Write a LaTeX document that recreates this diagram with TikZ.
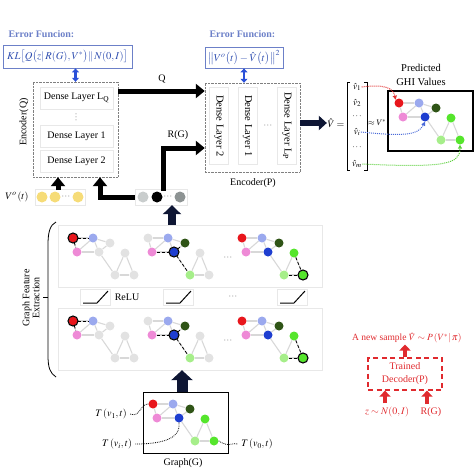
\documentclass[tikz,border=0pt]{standalone}
\usepackage{mathptmx}
\usepackage[no-math]{fontspec}
\setmainfont{Liberation Serif}
\usetikzlibrary{arrows.meta,backgrounds,calc}
\definecolor{nred}{HTML}{E8161C}
\definecolor{nlblue}{HTML}{9BA9EE}
\definecolor{ndgreen}{HTML}{2F5416}
\definecolor{npink}{HTML}{EE8AD6}
\definecolor{nblue}{HTML}{1E3ED0}
\definecolor{ngreen}{HTML}{55E52C}
\definecolor{nlgreen}{HTML}{A6EE8A}
\definecolor{ngray}{HTML}{E2E2E2}
\definecolor{errblue}{HTML}{6C80C8}
\definecolor{mathblue}{HTML}{2E4DB0}
\definecolor{arrblue}{HTML}{2A50D8}
\definecolor{navy}{HTML}{0E1634}
\definecolor{dred}{HTML}{E02A2E}
\definecolor{yel}{HTML}{F6DC78}
\definecolor{edgegray}{HTML}{D8D8D8}
\definecolor{faint}{HTML}{E8E8E8}
\definecolor{lgc}{HTML}{C9CDCD}
\definecolor{mgc}{HTML}{8D9393}
\definecolor{dotred}{HTML}{E03030}
\definecolor{dotblue}{HTML}{4A6AD8}
\definecolor{dotgreen}{HTML}{5CCF3C}
\newcommand{\setcols}[8]{\def\cA{#1}\def\cB{#2}\def\cC{#3}\def\cD{#4}\def\cE{#5}\def\cF{#6}\def\cG{#7}\def\cH{#8}}
\newcommand{\drawgraph}[3]{%
  \foreach \nm/\dx/\dy in {A/0/0,B/20/0,C/37/5,D/4/14,E/26/14,F/52/15,G/42/37,H/61/37}{%
    \edef\tmpcol{\csname c\nm\endcsname}%
    \node[gn, fill=\tmpcol] (#1\nm) at ({#2+\dx},{#3+\dy}) {};
  }%
  \begin{pgfonlayer}{background}
  \foreach \ea/\eb in {A/B,A/D,B/D,B/E,B/C,C/E,D/E,E/G,F/G,F/H,G/H}{\draw[ge] (#1\ea) -- (#1\eb);}
  \end{pgfonlayer}}
\begin{document}
\begin{tikzpicture}[x=1pt,y=-1pt,
  font=\fontsize{10}{12}\selectfont,
  gn/.style={circle, minimum size=9pt, inner sep=0pt},
  ge/.style={draw=edgegray, line width=1.1pt},
  de/.style={black, densely dashed, line width=0.8pt},
  hlc/.style={line width=1.1pt},
  bigarrow/.style={line width=5pt, -{Triangle[length=9pt,width=14pt]}},
  navyup/.style={navy, line width=8pt, -{Triangle[length=9pt,width=18pt]}},
  navybig/.style={navy, line width=11pt, -{Triangle[length=10pt,width=21pt]}},
  navymid/.style={navy, line width=6pt, -{Triangle[length=8pt,width=14pt]}},
  dbl/.style={arrblue, line width=2.2pt, {Triangle[length=4pt,width=7pt]}-{Triangle[length=4pt,width=7pt]}},
  redarrow/.style={dred, line width=4.5pt, -{Triangle[length=6pt,width=11pt]}},
  errtxt/.style={text=errblue, font=\fontsize{10}{12}\selectfont\bfseries},
  dl/.style={draw=faint, minimum width=73pt, minimum height=22pt},
  dlv/.style={draw=faint, minimum width=77pt, minimum height=19pt, rotate=-90, font=\fontsize{10.5}{12}\selectfont},
  faintbox/.style={draw=faint, inner sep=0pt},
  panel/.style={draw=faint, minimum width=264pt, minimum height=62pt},
  relu/.style={black, line width=1pt},
  vent/.style={inner sep=0.5pt, font=\fontsize{9}{10}\selectfont},
  smalldots/.style={inner sep=0pt, font=\fontsize{8}{8}\selectfont},
  dotc/.style={black, densely dotted, line width=0.8pt}]
\useasboundingbox (0,0) rectangle (474,474);

% ---- error functions
\node[errtxt, anchor=west] (ef1) at (5,34) {Error Funcion:};
\node[errtxt, anchor=west] (ef2) at (206,34) {Error Funcion:};
\node[draw=errblue, line width=0.8pt, text=mathblue, minimum width=129pt, minimum height=23pt, inner sep=1pt, font=\fontsize{10.5}{12}\selectfont] (kl) at (67.5,56.5)
  {$KL\big[Q\big(z|\,R(G),V^*\big)\|\,N(0,I)\big]$};
\node[draw=errblue, line width=0.8pt, text=mathblue, minimum width=78pt, minimum height=21pt, inner sep=1pt, font=\fontsize{10.5}{12}\selectfont] (kl2) at (244,57.5)
  {$\big\|V^o\big(t\big)-\hat V\big(t\big)\big\|^2$};

% ---- Encoder(Q)
\node[draw=gray, densely dotted, minimum width=85pt, minimum height=95pt] (encQ) at (75.5,129.5) {};
\node[dl] (lq) at (76.5,98) {Dense Layer L$_{\mathrm{Q}}$};
\node[smalldots, rotate=90] (qdots) at (76.5,117) {$\cdots$};
\node[dl] (l1q) at (76.5,136) {Dense Layer 1};
\node[dl] (l2q) at (76.5,161) {Dense Layer 2};
\node[rotate=90] (encQl) at (24,122) {Encoder(Q)};
\draw[dbl] (encQ.north |- kl.south) -- (encQ.north);

% ---- Encoder(P)
\node[draw=gray, densely dotted, minimum width=95pt, minimum height=89pt] (encP) at (252.5,127.5) {};
\node[dlv] (l2p) at (219,126) {Dense Layer 2};
\node[dlv] (l1p) at (247.5,126) {Dense Layer 1};
\node[smalldots] (pdots) at (268,126) {$\cdots$};
\node[dlv] (llp) at (287,126) {Dense Layer L$_{\mathrm{P}}$};
\node (encPl) at (253,183) {Encoder(P)};
\draw[dbl] (kl2.south) -- (kl2.south |- encP.north);

% ---- Q arrow
\coordinate (qy) at (0,91);
\draw[bigarrow] (encQ.east |- qy) -- (encP.west |- qy);
\node (qlab) at (162,79) {Q};

% ---- V^o row
\node[faintbox, minimum width=50pt, minimum height=16pt] (vrow) at (60,197) {};
\node[gn, fill=yel, minimum size=11pt] (y1) at (42,197) {};
\node[gn, fill=yel, minimum size=11pt] (y2) at (55,197) {};
\node[smalldots] (ydots) at (66,197) {$\cdots$};
\node[gn, fill=yel, minimum size=11pt] (y3) at (78,197) {};
\node (vlab) at (17,197) {$V^o\left(t\right)$};
\coordinate (va) at (58,190);
\draw[bigarrow] (va) -- (va |- encQ.south);

% ---- R(G) row
\node[faintbox, minimum width=52pt, minimum height=16pt] (grow) at (161,197) {};
\node[gn, fill=lgc, minimum size=11pt] (c1) at (143,197) {};
\node[gn, fill=black, minimum size=11pt] (c2) at (157,197) {};
\node[smalldots] (cdots) at (168,197) {$\cdots$};
\node[gn, fill=mgc, minimum size=11pt] (c3) at (180,197) {};
\coordinate (ql) at (100,0);
\draw[bigarrow] (grow.west) -| (ql |- encQ.south);
\coordinate (rga) at (163,191);
\coordinate (rgy) at (0,148);
\draw[bigarrow] (rga) |- (encP.west |- rgy);
\node (rglab) at (178,135) {R(G)};

% ---- V hat
\node[inner sep=0.5pt] (vh) at (336,123) {$\hat V=$};
\draw[navymid] (encP.east |- vh) -- (vh.west);
\draw[line width=0.6pt] (350,82) -- (347,82) -- (347,170) -- (350,170);
\draw[line width=0.6pt] (364,82) -- (367,82) -- (367,170) -- (364,170);
\node[vent] (v1) at (357,87) {$\hat v_1$};
\node[vent] (v2) at (357,103) {$\hat v_2$};
\node[vent] (vd1) at (357,117) {$\cdots$};
\node[vent] (vi) at (357,132) {$\hat v_i$};
\node[vent] (vd2) at (357,148) {$\cdots$};
\node[vent] (vm) at (357,164) {$\hat v_m$};
\node[inner sep=0.5pt, font=\fontsize{8.5}{9}\selectfont] (approx) at (377,123) {$\approx V^*$};

% ---- predicted
\node[align=center, font=\fontsize{10.5}{13.5}\selectfont] (pl) at (421,75) {Predicted\\GHI Values};
\node[draw, line width=1.2pt, minimum width=85pt, minimum height=60pt] (pbox) at (430.5,121) {};
\setcols{nred}{nlblue}{ndgreen}{npink}{nblue}{ngreen}{nlgreen}{ngreen}
\drawgraph{pr}{399}{103}
\draw[dotred, densely dotted, line width=1pt, -{Triangle[length=4pt,width=4pt]}] (v1.east) .. controls (385,84) and (393,88) .. (prA.north west);
\draw[dotblue, densely dotted, line width=1pt, -{Triangle[length=4pt,width=4pt]}] (vi.east) .. controls (400,136) and (418,136) .. (prE.south);
\draw[dotgreen, densely dotted, line width=1pt, -{Triangle[length=4pt,width=4pt]}] (vm.east) .. controls (445,168) and (460,164) .. (prH.south);

% ---- Graph feature extraction
\node[panel] (p1) at (190,256) {};
\node[panel] (p2) at (190,339) {};
\draw[line width=0.8pt] (56,222) .. controls (50,225) and (48,232) .. (48,245) -- (48,355) .. controls (48,368) and (50,373) .. (56,377);
\draw[line width=0.8pt] (48,297) -- (43,297);
\node[rotate=90, align=center, font=\fontsize{10}{10}\selectfont] (gfe) at (31,298) {Graph Feature\\Extraction};
\draw[navyup] (p1.north -| 172,0) -- (grow.south -| 172,0);

% top panel graphs
\setcols{nred}{nlblue}{ngray}{npink}{ngray}{ngray}{ngray}{ngray}
\drawgraph{ta}{73}{238}
\draw[de] (taA) -- (taB); \draw[de] (taA) -- (taD);
\draw[hlc] (taA.center) circle (5pt);
\setcols{ngray}{nlblue}{ndgreen}{npink}{nblue}{ngray}{nlgreen}{ngray}
\drawgraph{tb}{148}{238}
\draw[de] (tbD) -- (tbE); \draw[de] (tbE) -- (tbC); \draw[de] (tbE) -- (tbG);
\draw[hlc] (tbE.center) circle (5pt);
\setcols{nred}{nlblue}{ndgreen}{npink}{nblue}{ngreen}{nlgreen}{ngreen}
\drawgraph{tc}{242}{238}
\draw[de] (tcF) -- (tcH); \draw[de] (tcG) -- (tcH);
\draw[hlc] (tcH.center) circle (5pt);
\node[smalldots] (tdots) at (228,258) {$\cdots$};

% ReLU row
\node[faintbox, minimum width=30pt, minimum height=16pt] (r1) at (95,297.5) {};
\node[faintbox, minimum width=30pt, minimum height=16pt] (r2) at (178,297.5) {};
\node[faintbox, minimum width=30pt, minimum height=16pt] (r3) at (292,297.5) {};
\foreach \r in {r1,r2,r3}{\draw[relu] ($(\r.center)+(-12,5.5)$) -- ++(14,0) -- ++(11,-12);}
\node (relul) at (127,297) {ReLU};
\node[smalldots] (rdots) at (233,297) {$\cdots$};

% bottom panel graphs
\setcols{nred}{nlblue}{ngray}{npink}{ngray}{ngray}{ngray}{ngray}
\drawgraph{ba}{73}{321}
\draw[de] (baA) -- (baB); \draw[de] (baA) -- (baD);
\draw[hlc] (baA.center) circle (5pt);
\setcols{ngray}{nlblue}{ndgreen}{npink}{nblue}{ngray}{nlgreen}{ngray}
\drawgraph{bb}{148}{321}
\draw[de] (bbD) -- (bbE); \draw[de] (bbE) -- (bbC); \draw[de] (bbE) -- (bbG);
\draw[hlc] (bbE.center) circle (5pt);
\setcols{nred}{nlblue}{ndgreen}{npink}{nblue}{ngreen}{nlgreen}{ngreen}
\drawgraph{bc}{242}{321}
\draw[de] (bcF) -- (bcH); \draw[de] (bcG) -- (bcH);
\draw[hlc] (bcH.center) circle (5pt);
\node[smalldots] (bdots) at (228,341) {$\cdots$};

% ---- Graph(G)
\node[draw, line width=1pt, minimum width=85pt, minimum height=61pt] (gbox) at (185.5,422.5) {};
\setcols{nred}{nlblue}{ndgreen}{npink}{nblue}{ngreen}{nlgreen}{ngreen}
\drawgraph{g}{153}{404}
\node (glab) at (183,463) {Graph(G)};
\draw[navybig] (gbox.north -| 182,0) -- (p2.south -| 182,0);
\node (t1) at (111,414) {$T\left(v_1,t\right)$};
\draw[dotc] (t1.east) .. controls (140,418) and (140,404) .. (gA.west);
\node (ti) at (117,444) {$T\left(v_i,t\right)$};
\draw[dotc] (ti.east) .. controls (168,444) and (181,436) .. (gE.south);
\node (t0) at (257,444) {$T\left(v_0,t\right)$};
\draw[dotc] (gH.east) .. controls (230,448) and (232,442) .. (t0.west);

% ---- new sample
\node[text=dred, anchor=west, font=\fontsize{9.5}{10}\selectfont, inner sep=1pt] (ns) at (351,338) {A new sample $\hat V\sim P\left(V^*|\,\pi\right)$};
\node[draw=dred, dash pattern=on 5pt off 3.5pt, line width=1.2pt, minimum width=74pt, minimum height=32pt, align=center, text=dred, font=\fontsize{10}{13}\selectfont] (dec) at (405,374) {Trained\\Decoder(P)};
\draw[redarrow] (dec.north) -- (dec.north |- ns.south);
\node[text=dred] (zl) at (387,412) {$z\sim N(0,I)$};
\node[text=dred] (rl) at (431,412) {R(G)};
\draw[redarrow] (zl.north -| 385,0) -- (dec.south -| 385,0);
\draw[redarrow] (rl.north -| 427,0) -- (dec.south -| 427,0);
\end{tikzpicture}
\end{document}
